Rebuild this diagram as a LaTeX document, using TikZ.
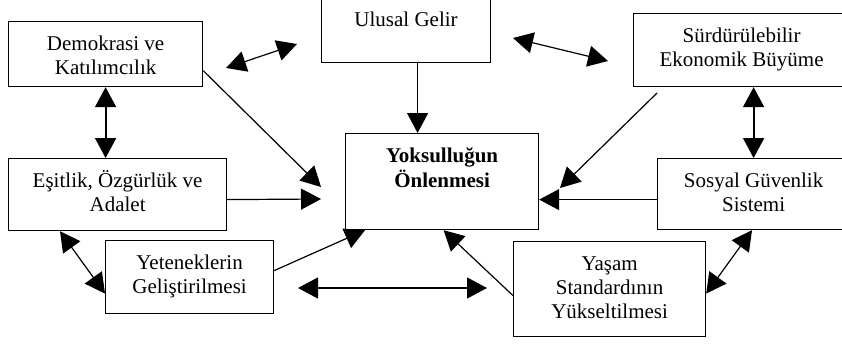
\documentclass[tikz,border=0pt]{standalone}
\usepackage{fontspec}
\setmainfont{Liberation Serif}
\usetikzlibrary{arrows.meta,calc}
\tikzset{
	kutu/.style={draw, line width=1.2pt, inner sep=0pt, anchor=north west, text height=29pt, font=\fontsize{21}{24}\selectfont},
	ok/.style={line width=1.2pt, -{Triangle[length=20pt,width=21pt]}},
	cift/.style={line width=1.2pt, {Triangle[length=20pt,width=21pt]}-{Triangle[length=20pt,width=21pt]}},
}
\def\satir#1{\begin{tabular}[t]{@{}c@{}}#1\end{tabular}}

\begin{document}
\begin{tikzpicture}[x=1pt, y=-1pt]
			%%%%% START %%%%%
			\useasboundingbox (0, 0) rectangle (842, 343);
			\clip (0, 0) rectangle (842, 343);
			
			\node[kutu, minimum width=169pt, text depth=36pt] (ulusal) at (321, -3) {\satir{Ulusal Gelir}};
			\node[kutu, minimum width=194pt, text depth=36pt] (demo) at (8, 21) {\satir{Demokrasi ve\\Katılımcılık}};
			\node[kutu, minimum width=216pt, text depth=44pt] (surdur) at (633, 13) {\satir{Sürdürülebilir\\Ekonomik Büyüme}};
			
			\node[kutu, minimum width=218pt, text depth=43pt] (esit) at (8, 158) {\satir{Eşitlik, Özgürlük ve\\Adalet}};
			\node[kutu, minimum width=193pt, text depth=67pt] (yoks) at (345, 133) {\satir{\bfseries Yoksulluğun\\\bfseries Önlenmesi}};
			\node[kutu, minimum width=192pt, text depth=42pt] (sosyal) at (657, 158) {\satir{Sosyal Güvenlik\\Sistemi}};
			
			\node[kutu, minimum width=168pt, text depth=44pt] (yet) at (105, 240) {\satir{Yeteneklerin\\Geliştirilmesi}};
			\node[kutu, minimum width=192pt, text depth=66pt] (yasam) at (513, 241) {\satir{Yaşam\\Standardının\\Yükseltilmesi}};
			
			% free ends
			\coordinate (du1) at (226, 68);
			\coordinate (du2) at (297, 44);
			\coordinate (us1) at (513, 38);
			\coordinate (us2) at (608, 61);
			\coordinate (dy) at (321, 187);
			\coordinate (ey) at (321, 199);
			\coordinate (sy1) at (657, 93);
			\coordinate (sy2) at (560, 188);
			\coordinate (yy1) at (298, 288);
			\coordinate (yy2) at (487, 288);
			
			% ends on the boxes
			\coordinate (uy) at ($(ulusal.south)+(11.5, 0)$);
			\coordinate (sg) at ($(sosyal.west)+(0, 5.5)$);
			
			\draw[cift] (du1) -- (du2);
			\draw[cift] (us1) -- (us2);
			\draw[ok] (uy) -- (uy |- yoks.north);
			
			\draw[ok] ($(demo.east)+(0, 16.5)$) -- (dy);
			\draw[ok] ($(esit.east)+(0, 5)$) -- (ey);
			\draw[ok] (sy1) -- (sy2);
			\draw[ok] (sg) -- (sg -| yoks.east);
			
			\draw[cift, line width=2pt] (demo.south) -- (demo.south |- esit.north);
			\draw[cift, line width=2pt] (sosyal.north |- surdur.south) -- (sosyal.north);
			
			\draw[cift] ($(esit.south west)+(52, 0)$) -- ($(yet.west)+(0, 16.5)$);
			\draw[ok] ($(yet.east)+(0, -6.5)$) -- ($(yoks.south west)+(20, 0)$);
			\draw[cift] (yy1) -- (yy2);
			\draw[ok] ($(yasam.west)+(0, 6.5)$) -- ($(yoks.south)+(1.5, 0)$);
			\draw[cift] ($(sosyal.south west)+(95, 0)$) -- ($(yasam.east)+(0, 4.5)$);
			
			%%%%% END %%%%%
\end{tikzpicture}
\end{document}
